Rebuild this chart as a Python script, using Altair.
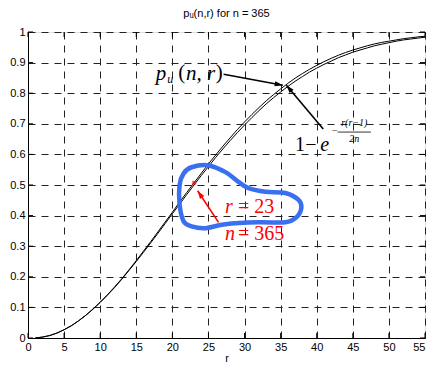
import altair as alt
import pandas as pd
import numpy as np

# ---- data ----
r_vals = list(range(1, 56))
p_exact = [0.000, 0.003, 0.008, 0.016, 0.027, 0.040, 0.056, 0.074, 0.095, 0.117,
           0.141, 0.167, 0.194, 0.223, 0.253, 0.284, 0.315, 0.347, 0.379, 0.411,
           0.444, 0.476, 0.507, 0.538, 0.569, 0.598, 0.627, 0.654, 0.681, 0.706,
           0.730, 0.753, 0.775, 0.795, 0.814, 0.832, 0.849, 0.864, 0.878, 0.891,
           0.903, 0.914, 0.924, 0.933, 0.941, 0.948, 0.955, 0.961, 0.966, 0.970,
           0.974, 0.978, 0.981, 0.984, 0.986]
p_approx = [0.000, 0.003, 0.008, 0.016, 0.027, 0.040, 0.056, 0.074, 0.094, 0.116,
            0.140, 0.165, 0.192, 0.221, 0.250, 0.280, 0.311, 0.342, 0.374, 0.406,
            0.437, 0.469, 0.500, 0.531, 0.560, 0.590, 0.618, 0.645, 0.671, 0.696,
            0.720, 0.743, 0.765, 0.785, 0.804, 0.822, 0.839, 0.854, 0.869, 0.882,
            0.894, 0.905, 0.916, 0.925, 0.934, 0.941, 0.948, 0.955, 0.960, 0.965,
            0.970, 0.974, 0.977, 0.980, 0.983]

x_ticks = list(range(0, 56, 5))
y_ticks = [round(0.1 * i, 1) for i in range(11)]

# highlighted point
hl_r = [23]
hl_p = [0.507]

# hand-drawn loop (data coords)
loop_x = [22.66, 25.01, 27.36, 29.16, 30.54, 32.89, 35.66, 37.45, 37.87, 37.17,
          35.66, 31.92, 27.36, 24.60, 22.66, 21.56, 21.0, 21.0, 21.56]
loop_y = [0.558, 0.564, 0.542, 0.510, 0.490, 0.478, 0.474, 0.452, 0.426, 0.394,
          0.378, 0.378, 0.372, 0.359, 0.365, 0.381, 0.436, 0.500, 0.538]

# arrows: tail -> tip (data coords)
arr_tail_x = [27.1, 40.9, 26.4]
arr_tail_y = [0.862, 0.683, 0.378]
arr_tip_x = [35.3, 35.8, 23.5]
arr_tip_y = [0.826, 0.826, 0.481]
arr_color = ["black", "black", "red"]

W, H = 397, 306
XMAX = 55

# ---- tables ----
curves = pd.DataFrame({
    "r": r_vals * 2,
    "p": p_exact + p_approx,
    "s": ["exact"] * len(r_vals) + ["approx"] * len(r_vals),
})
loop = pd.DataFrame({"x": loop_x, "y": loop_y, "o": list(range(len(loop_x)))})
arrows = pd.DataFrame({"x": arr_tail_x, "y": arr_tail_y,
                       "x2": arr_tip_x, "y2": arr_tip_y, "c": arr_color})
dxp = (arrows["x2"] - arrows["x"]) * W / XMAX
dyp = -(arrows["y2"] - arrows["y"]) * H
arrows["ang"] = (np.degrees(np.arctan2(dxp, -dyp)) + 360) % 360

xs = alt.Scale(domain=[0, XMAX], nice=False, zero=False)
ys = alt.Scale(domain=[0, 1], nice=False)

ax_x = alt.Axis(values=x_ticks, title="r", grid=True, ticks=False,
                gridDash=[7, 6], gridColor="#222", gridOpacity=1,
                domainColor="black", labelColor="black",
                labelFontSize=11, labelFont="Liberation Sans",
                labelPadding=3, labelOverlap=False,
                labelAlign={"condition": {"test": "datum.value == 55", "value": "right"},
                            "value": "center"},
                titleFont="Liberation Sans",
                titleFontSize=11, titleFontWeight="normal",
                titlePadding=0, titleColor="black", labelFlush=False)
ax_y = alt.Axis(values=y_ticks, title=None, grid=True, ticks=False,
                format="~g", gridDash=[7, 6], gridColor="#222",
                gridOpacity=1, domainColor="black", labelColor="black",
                labelFontSize=11, labelFont="Liberation Sans",
                labelPadding=3, labelOverlap=False, labelFlush=False)


def X(f):
    return alt.X(f, scale=xs, axis=ax_x, title="r")


def Y(f):
    return alt.Y(f, scale=ys, axis=ax_y, title=None)


lines = alt.Chart(curves).mark_line(color="black", strokeWidth=1).encode(
    x=X("r:Q"), y=Y("p:Q"), detail="s:N")

# inward ticks
xt = pd.DataFrame({"r": x_ticks})
yt = pd.DataFrame({"p": y_ticks})
tick_b = alt.Chart(xt).mark_rule(color="black").encode(
    x=X("r:Q"), y=alt.value(H), y2=alt.value(H - 5))
tick_t = alt.Chart(xt).mark_rule(color="black").encode(
    x=X("r:Q"), y=alt.value(0), y2=alt.value(5))
tick_l = alt.Chart(yt).mark_rule(color="black").encode(
    y=Y("p:Q"), x=alt.value(0), x2=alt.value(5))
tick_r = alt.Chart(yt).mark_rule(color="black").encode(
    y=Y("p:Q"), x=alt.value(W), x2=alt.value(W - 5))

loop_m = alt.Chart(loop).mark_line(color="#3a6ff0", strokeWidth=4.5,
                                   interpolate="cardinal-closed").encode(
    x=X("x:Q"), y=Y("y:Q"), order="o:Q")

hl = alt.Chart(pd.DataFrame({"x": hl_r, "y": hl_p})).mark_point(
    shape="cross", color="red", filled=True, size=22, angle=45, strokeWidth=0).encode(
    x=X("x:Q"), y=Y("y:Q"))

arr_lines = alt.Chart(arrows).mark_rule(strokeWidth=1.6).encode(
    x=X("x:Q"), y=Y("y:Q"), x2="x2:Q", y2="y2:Q",
    color=alt.Color("c:N", scale=None))
arr_heads = alt.Chart(arrows).mark_point(
    shape="M0,0L0.32,1L-0.32,1Z", filled=True, size=260, opacity=1, strokeWidth=0).encode(
    x=X("x2:Q"), y=Y("y2:Q"),
    angle=alt.Angle("ang:Q", scale=None),
    color=alt.Color("c:N", scale=None))


# text annotations (data coords)
def txt(s, x, y, size, style="normal", color="black", align="left", baseline="alphabetic"):
    return alt.Chart(pd.DataFrame({"x": [x], "y": [y], "t": [s]})).mark_text(
        font="Liberation Serif", fontSize=size, fontStyle=style, color=color,
        align=align, baseline=baseline).encode(
        x=X("x:Q"), y=Y("y:Q"), text="t:N")


ann = [
    txt("p", 17.7, 0.843, 21, "italic"),
    txt("u", 19.3, 0.832, 12, "italic"),
    txt("(", 20.8, 0.845, 21),
    txt("n, r", 21.9, 0.843, 21, "italic"),
    txt(")", 26.0, 0.845, 21),
    txt("1", 37.0, 0.612, 20),
    txt("\u2212", 38.4, 0.612, 20),
    txt("e", 40.5, 0.612, 20, "italic"),
    txt("\u2212", 42.1, 0.666, 10),
    txt("r(r\u22121)", 45.2, 0.694, 10, "italic", align="center"),
    txt("2n", 45.2, 0.640, 10, "italic", align="center"),
    txt("r", 27.3, 0.410, 20, "italic", color="red"),
    txt("= 23", 29.1, 0.410, 20, color="red"),
    txt("n", 27.3, 0.320, 20, "italic", color="red"),
    txt("= 365", 29.1, 0.320, 20, color="red"),
]
frac = alt.Chart(pd.DataFrame({"x": [42.9], "x2": [47.5], "y": [0.673]})).mark_rule(
    color="black", strokeWidth=0.8).encode(
    x=X("x:Q"), x2="x2:Q", y=Y("y:Q"))

chart = alt.layer(
    lines, tick_b, tick_t, tick_l, tick_r, loop_m, hl, arr_lines, arr_heads, frac, *ann
).properties(
    width=W, height=H,
    title=alt.Title("p\u1d64(n,r) for n = 365", font="Liberation Sans", fontSize=11,
                    fontWeight="normal", color="black", offset=7),
    autosize=alt.AutoSizeParams(type="none"),
    padding={"left": 20, "top": 24, "right": 1, "bottom": 27},
).configure_view(stroke="black", strokeWidth=1).configure(background="white")

chart.save("out.html", embed_options={"renderer": "svg", "actions": False})
